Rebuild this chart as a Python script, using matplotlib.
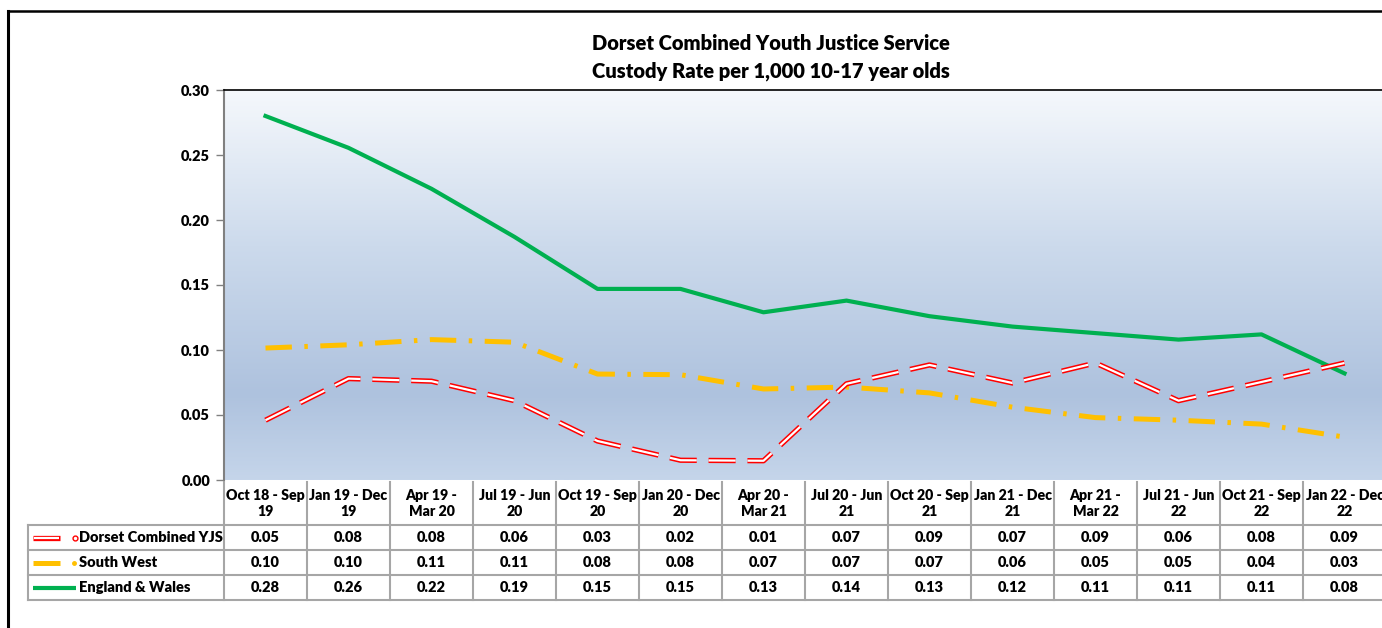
#!/usr/bin/env python3
import numpy as np
import matplotlib
matplotlib.use("Agg")
from matplotlib import pyplot as plt
from matplotlib.colors import LinearSegmentedColormap
from matplotlib.lines import Line2D

categories = ["Oct 18 - Sep\n19", "Jan 19 - Dec\n19", "Apr 19 -\nMar 20", "Jul 19 - Jun\n20",
              "Oct 19 - Sep\n20", "Jan 20 - Dec\n20", "Apr 20 -\nMar 21", "Jul 20 - Jun\n21",
              "Oct 20 - Sep\n21", "Jan 21 - Dec\n21", "Apr 21 -\nMar 22", "Jul 21 - Jun\n22",
              "Oct 21 - Sep\n22", "Jan 22 - Dec\n22"]
dorset = [0.046, 0.078, 0.076, 0.061, 0.030, 0.0152, 0.0148, 0.074, 0.0885, 0.0746, 0.090, 0.061, 0.0754, 0.090]
south_west = [0.1015, 0.104, 0.108, 0.106, 0.0815, 0.081, 0.070, 0.0715, 0.067, 0.056, 0.048, 0.046, 0.043, 0.033]
england = [0.280, 0.2555, 0.224, 0.187, 0.147, 0.147, 0.129, 0.138, 0.126, 0.118, 0.113, 0.108, 0.112, 0.082]
series_names = ["Dorset Combined YJS", "South West", "England & Wales"]

plt.rcParams['font.family'] = ['Lato', 'DejaVu Sans']
plt.rcParams['lines.scale_dashes'] = False
WT = 800  # heavy weight, closer to the reference's bold

RED = "#FF0000"
YELLOW = "#FFC000"
GREEN = "#00B050"
GRID = "#A6A6A6"

W, H = 1382, 628
fig = plt.figure(figsize=(W / 100, H / 100), dpi=100)

# plot area in pixels: x 224..1386, y 90..480
ax = fig.add_axes([224 / W, (H - 480) / H, 1162 / W, 390 / H])
n = len(categories)
x = np.arange(n)
ax.set_xlim(-0.5, n - 0.5)
ax.set_ylim(0, 0.30)

# gradient background
grad = LinearSegmentedColormap.from_list("bg", [(0.0, "#C5D5EA"), (0.22, "#AEC2DE"),
                                                (0.6, "#CCDAEC"), (1.0, "#F5F8FC")])
ax.imshow(np.linspace(0, 1, 256).reshape(-1, 1), cmap=grad, origin="lower",
          extent=(-0.5, n - 0.5, 0, 0.30), aspect="auto", zorder=0)

ax.plot(x, england, color=GREEN, lw=3.0, zorder=3, solid_joinstyle="round")
ax.plot(x, south_west, color=YELLOW, lw=3.6, zorder=3,
        dashes=(19, 9, 2.5, 9), dash_capstyle="butt")
ax.plot(x, dorset, color=RED, lw=3.8, zorder=4, dashes=(19.5, 8.5), dash_capstyle="butt")
ax.plot(x, dorset, color="white", lw=1.6, zorder=5, dashes=(19.5, 8.5), dash_capstyle="butt")

ax.set_yticks(np.arange(0, 0.301, 0.05))
ax.set_yticklabels(["%.2f" % v for v in np.arange(0, 0.301, 0.05)], fontsize=10.5, fontweight=WT)
ax.tick_params(axis="y", length=6, width=1, color="#808080", pad=4)
ax.set_xticks([])
for s in ("right", "bottom"):
    ax.spines[s].set_visible(False)
ax.spines["left"].set_color("#808080")
ax.spines["left"].set_linewidth(1.5)
ax.spines["top"].set_color("black")
ax.spines["top"].set_linewidth(1.2)

fig.text(0.5575, 1 - 43 / H, "Dorset Combined Youth Justice Service", ha="center", va="center",
         fontsize=14.5, fontweight=WT)
fig.text(0.5575, 1 - 71 / H, "Custody Rate per 1,000 10-17 year olds", ha="center", va="center",
         fontsize=14.5, fontweight=WT)

# data table below the plot
tr = ax.get_xaxis_transform()
px = 1162 / n
def to_x(p):
    return -0.5 - (224 - p) / px
def to_y(p):
    return -(p - 480) / 390.0

y_head = to_y(525)
rows_y = [to_y(525), to_y(550), to_y(575), to_y(600)]
x_left = to_x(28)

for b in range(n + 1):
    ax.add_line(Line2D([b - 0.5, b - 0.5], [to_y(482), rows_y[-1]], transform=tr,
                       color=GRID, lw=1.5, clip_on=False))
ax.add_line(Line2D([x_left, x_left], [rows_y[0], rows_y[-1]], transform=tr,
                   color=GRID, lw=1.5, clip_on=False))
for yy in rows_y:
    ax.add_line(Line2D([x_left, n - 0.5], [yy, yy], transform=tr, color=GRID, lw=1.5, clip_on=False))

for i, lab in enumerate(categories):
    ax.text(i, (to_y(482) + y_head) / 2, lab, transform=tr, ha="center", va="center",
            fontsize=10.2, fontweight=WT, linespacing=1.3)

table_series = [dorset, south_west, england]
for r, vals in enumerate(table_series):
    yc = (rows_y[r] + rows_y[r + 1]) / 2
    for i, v in enumerate(vals):
        ax.text(i, yc, "%.2f" % v, transform=tr, ha="center", va="center",
                fontsize=10.5, fontweight=WT)
    ax.text(to_x(79), yc, series_names[r], transform=tr, ha="left", va="center",
            fontsize=10.5, fontweight=WT)

# legend keys
yc = [(rows_y[r] + rows_y[r + 1]) / 2 for r in range(3)]
ax.add_line(Line2D([to_x(33), to_x(60)], [yc[0], yc[0]], transform=tr, color=RED, lw=3.8,
                   solid_capstyle="butt", clip_on=False))
ax.add_line(Line2D([to_x(33.7), to_x(59.3)], [yc[0], yc[0]], transform=tr, color="white", lw=1.6,
                   solid_capstyle="butt", clip_on=False))
ax.add_line(Line2D([to_x(75)], [yc[0]], transform=tr, marker="o", ms=3.5, mfc="white", mec=RED,
                   mew=1, clip_on=False))
ax.add_line(Line2D([to_x(33), to_x(60)], [yc[1], yc[1]], transform=tr, color=YELLOW, lw=3.6,
                   solid_capstyle="butt", clip_on=False))
ax.add_line(Line2D([to_x(74)], [yc[1]], transform=tr, marker="o", ms=2.5, mfc=YELLOW, mec=YELLOW,
                   clip_on=False))
ax.add_line(Line2D([to_x(33), to_x(76)], [yc[2], yc[2]], transform=tr, color=GREEN, lw=3.0,
                   solid_capstyle="butt", clip_on=False))

# outer chart frame (cut off on the right and bottom)
fig.add_artist(Line2D([7.5 / W, 7.5 / W], [0, 1 - 11 / H], color="black", lw=2.2))
fig.add_artist(Line2D([7.5 / W, 1], [1 - 11 / H, 1 - 11 / H], color="black", lw=1.8))

fig.savefig("out.png", dpi=100)
